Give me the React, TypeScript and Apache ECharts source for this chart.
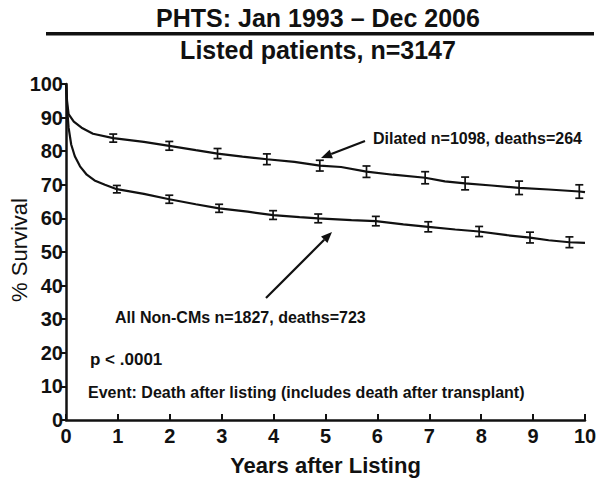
import React, { useEffect, useRef } from "react";
import * as echarts from "echarts";

const FONT = "'Liberation Sans', Arial, Helvetica, sans-serif";

const xTicks = [0, 1, 2, 3, 4, 5, 6, 7, 8, 9, 10];
const yTicks = [0, 10, 20, 30, 40, 50, 60, 70, 80, 90, 100];

// Kaplan-Meier style survival curves [years, % survival]
const dilatedCurve: number[][] = [
  [0, 100], [0.02, 95], [0.05, 91], [0.15, 88.8], [0.3, 87], [0.52, 85.2],
  [0.91, 83.9], [1.5, 82.8], [1.99, 81.6], [2.5, 80.3], [2.92, 79.3],
  [3.4, 78.4], [3.87, 77.6], [4.4, 76.8], [4.89, 75.7], [5.3, 75.3],
  [5.79, 73.9], [6.3, 73.0], [6.92, 72.1], [7.3, 71.0], [7.69, 70.4],
  [8.2, 69.8], [8.73, 69.1], [9.3, 68.6], [9.89, 68.0], [10, 67.8],
];
const nonCMCurve: number[][] = [
  [0, 100], [0.02, 93], [0.05, 87], [0.1, 82], [0.17, 78.5], [0.27, 75.5],
  [0.4, 73], [0.55, 71.3], [0.75, 70], [0.98, 68.7], [1.5, 67.3],
  [1.99, 65.7], [2.5, 64.2], [2.95, 63.0], [3.5, 62], [3.99, 61.0],
  [4.5, 60.4], [4.86, 60.0], [5.5, 59.5], [5.97, 59.2], [6.5, 58.2],
  [6.98, 57.5], [7.5, 56.7], [7.96, 56.1], [8.5, 55.0], [8.94, 54.3],
  [9.3, 53.5], [9.7, 52.9], [10, 52.7],
];

// Error bars: [years, center, half-width]
const dilatedErr: number[][] = [
  [0.91, 83.9, 1.2], [1.99, 81.6, 1.3], [2.92, 79.3, 1.5], [3.87, 77.6, 1.6],
  [4.89, 75.7, 1.6], [5.79, 73.9, 1.7], [6.92, 72.1, 1.8], [7.69, 70.4, 1.9],
  [8.73, 69.1, 2.0], [9.89, 68.0, 2.0],
];
const nonCMErr: number[][] = [
  [0.98, 68.7, 1.1], [1.99, 65.7, 1.2], [2.95, 63.0, 1.2], [3.99, 61.0, 1.3],
  [4.86, 60.0, 1.3], [5.97, 59.2, 1.4], [6.98, 57.5, 1.5], [7.96, 56.1, 1.5],
  [8.94, 54.3, 1.6], [9.7, 52.9, 1.6],
];

function errRender(params: any, api: any) {
  const x = api.value(0);
  const c = api.value(1);
  const h = api.value(2);
  const top = api.coord([x, c + h]);
  const bot = api.coord([x, c - h]);
  const cap = 4;
  const style = { stroke: "#111", lineWidth: 1.7 };
  return {
    type: "group",
    children: [
      { type: "line", shape: { x1: top[0], y1: top[1], x2: bot[0], y2: bot[1] }, style },
      { type: "line", shape: { x1: top[0] - cap, y1: top[1], x2: top[0] + cap, y2: top[1] }, style },
      { type: "line", shape: { x1: bot[0] - cap, y1: bot[1], x2: bot[0] + cap, y2: bot[1] }, style },
    ],
  };
}

function arrow(x1: number, y1: number, x2: number, y2: number) {
  const dx = x2 - x1;
  const dy = y2 - y1;
  const len = Math.sqrt(dx * dx + dy * dy);
  const ux = dx / len;
  const uy = dy / len;
  const L = 11;
  const W = 4.5;
  const bx = x2 - ux * L;
  const by = y2 - uy * L;
  return [
    { type: "line", shape: { x1, y1, x2: bx, y2: by }, style: { stroke: "#111", lineWidth: 2.2 } },
    {
      type: "polygon",
      shape: { points: [[x2, y2], [bx - uy * W, by + ux * W], [bx + uy * W, by - ux * W]] },
      style: { fill: "#111" },
    },
  ];
}

export default function App() {
  const ref = useRef<HTMLDivElement>(null);
  useEffect(() => {
    if (!ref.current) return;
    const chart = echarts.init(ref.current, null, { renderer: "svg" });
    const annText = (text: string, x: number, y: number, size: number) => ({
      type: "text",
      x,
      y,
      style: { text, font: `bold ${size}px ${FONT}`, fill: "#111", textVerticalAlign: "middle" },
    });
    const centerText = (text: string, y: number, size: number) => ({
      type: "text",
      x: 318,
      y,
      style: {
        text,
        font: `bold ${size}px ${FONT}`,
        fill: "#111",
        textAlign: "center",
        textVerticalAlign: "middle",
      },
    });
    chart.setOption({
      animation: false,
      backgroundColor: "#fff",
      textStyle: { fontFamily: FONT },
      grid: { left: 66, right: 15, top: 84, bottom: 66, outerBoundsMode: "none", containLabel: false },
      xAxis: {
        type: "value",
        min: xTicks[0],
        max: xTicks[xTicks.length - 1],
        interval: 1,
        name: "Years after Listing",
        nameLocation: "middle",
        nameGap: 34,
        nameTextStyle: { fontSize: 22, fontWeight: "bold", color: "#111", fontFamily: FONT },
        axisLine: { lineStyle: { color: "#111", width: 2.5 } },
        axisTick: { inside: true, length: 6, lineStyle: { color: "#111", width: 2 } },
        axisLabel: { fontSize: 20, fontWeight: "bold", color: "#111", margin: 6, fontFamily: FONT },
        splitLine: { show: false },
      },
      yAxis: {
        type: "value",
        min: yTicks[0],
        max: yTicks[yTicks.length - 1],
        interval: 10,
        axisLine: { lineStyle: { color: "#111", width: 2.5 } },
        axisTick: { inside: false, length: 6, lineStyle: { color: "#111", width: 2 } },
        axisLabel: { fontSize: 20, fontWeight: "bold", color: "#111", margin: 3, fontFamily: FONT },
        splitLine: { show: false },
      },
      series: [
        {
          type: "line",
          data: dilatedCurve,
          showSymbol: false,
          lineStyle: { color: "#111", width: 2.2 },
        },
        {
          type: "line",
          data: nonCMCurve,
          showSymbol: false,
          lineStyle: { color: "#111", width: 2.2 },
        },
        { type: "custom", renderItem: errRender, data: dilatedErr, z: 3 },
        { type: "custom", renderItem: errRender, data: nonCMErr, z: 3 },
      ],
      graphic: [
        centerText("PHTS: Jan 1993 \u2013 Dec 2006", 18, 25),
        { type: "rect", shape: { x: 46, y: 32, width: 548, height: 3.5 }, style: { fill: "#111" } },
        centerText("Listed patients, n=3147", 50, 25),
        {
          type: "text",
          x: 19,
          y: 250,
          rotation: Math.PI / 2,
          style: {
            text: "% Survival",
            font: `22px ${FONT}`,
            fill: "#111",
            textAlign: "center",
            textVerticalAlign: "middle",
          },
        },
        annText("Dilated n=1098, deaths=264", 373, 138, 16),
        ...arrow(365, 141, 321, 158),
        annText("All Non-CMs n=1827, deaths=723", 115, 317, 16),
        ...arrow(266, 298, 332, 232),
        annText("p < .0001", 90, 359, 17),
        annText("Event: Death after listing (includes death after transplant)", 88, 392, 16),
      ],
    });
    return () => chart.dispose();
  }, []);
  return (
    <div
      ref={ref}
      style={{ position: "fixed", left: 0, top: 0, width: 600, height: 486, background: "#fff" }}
    />
  );
}
